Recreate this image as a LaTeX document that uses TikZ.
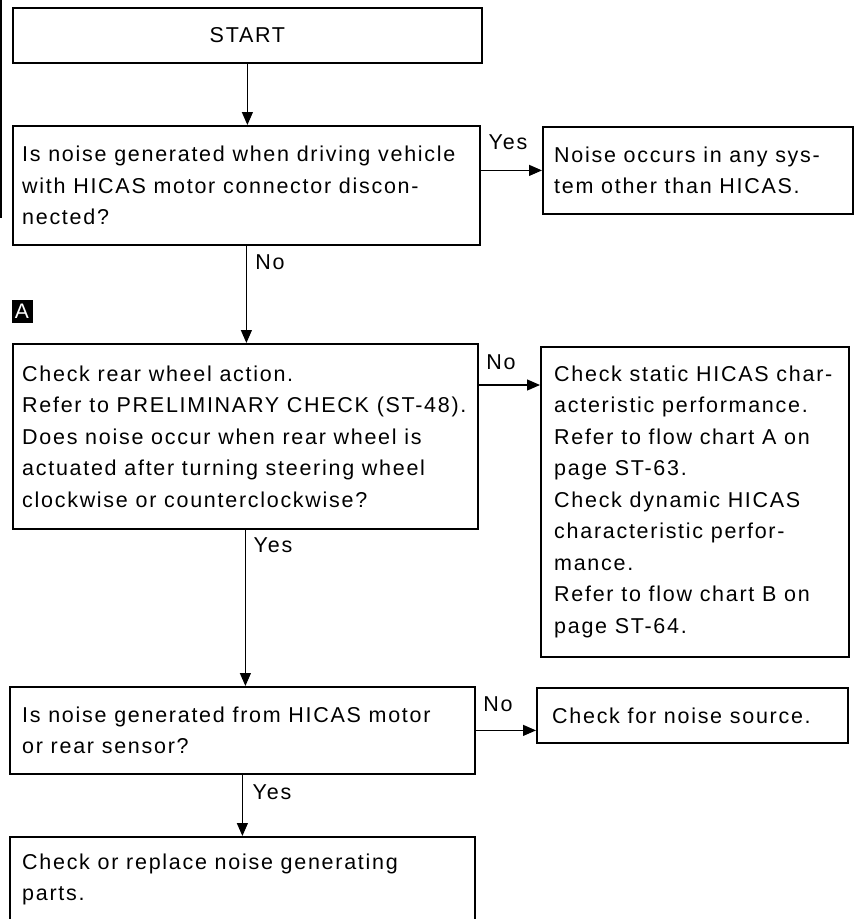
\documentclass[tikz,border=0pt]{standalone}
\usepackage{fontspec}
\setmainfont{Liberation Sans}[LetterSpace=8]
\usetikzlibrary{arrows.meta}
\tikzset{
  bx/.style={draw, line width=1.8pt, inner sep=0pt, anchor=north west,
    font=\fontsize{21.5}{31.5}\selectfont},
  tx/.style={font=\fontsize{21.5}{31.5}\selectfont, align=left, anchor=west, inner sep=0pt},
  lb/.style={font=\fontsize{21.5}{23}\selectfont, inner sep=0pt},
  arr/.style={line width=1.2pt, -{Triangle[length=13pt,width=11pt]}},
  badge/.style={fill=black, text=white, minimum width=21pt, minimum height=23pt,
    inner sep=0pt, font=\fontsize{21}{21}\selectfont},
}
\begin{document}
\begin{tikzpicture}[x=1pt,y=-1pt]
\useasboundingbox (0,0) rectangle (855,919);
\clip (0,0) rectangle (855,919);
\fill[white] (0,0) rectangle (855,919);
\draw[line width=1.5pt] (1,0) -- (1,218);

\node[bx, minimum width=469pt, minimum height=55pt] (start) at (12,7) {START};

\node[bx, minimum width=467pt, minimum height=119pt] (b2) at (12,125) {};
\node[tx] (t2) at ([xshift=10pt]b2.west) {Is noise generated when driving vehicle\\with HICAS motor connector discon-\\nected?};

\node[bx, minimum width=310pt, minimum height=87pt] (b3) at (542,126) {};
\node[tx] (t3) at ([xshift=12pt]b3.west) {Noise occurs in any sys-\\tem other than HICAS.};

\node[bx, minimum width=465pt, minimum height=185pt] (b4) at (12,343) {};
\node[tx] (t4) at ([xshift=10pt]b4.west) {Check rear wheel action.\\Refer to PRELIMINARY CHECK (ST-48).\\Does noise occur when rear wheel is\\actuated after turning steering wheel\\clockwise or counterclockwise?};

\node[bx, minimum width=308pt, minimum height=310pt] (b5) at (540,346) {};
\node[tx] (t5) at ([xshift=14pt]b5.west) {Check static HICAS char-\\acteristic performance.\\Refer to flow chart A on\\page ST-63.\\Check dynamic HICAS\\characteristic perfor-\\mance.\\Refer to flow chart B on\\page ST-64.};

\node[bx, minimum width=465pt, minimum height=87pt] (b6) at (9,686) {};
\node[tx] (t6) at ([xshift=13pt]b6.west) {Is noise generated from HICAS motor\\or rear sensor?};

\node[bx, minimum width=311pt, minimum height=55pt] (b7) at (536,687) {};
\node[tx] (t7) at ([xshift=16pt]b7.west) {Check for noise source.};

\node[bx, minimum width=465pt, minimum height=85pt] (b8) at (9,836) {};
\node[tx] (t8) at ([xshift=13pt]b8.west) {Check or replace noise generating\\parts.};

\node[badge] (badgeA) at (22,311) {A};

\draw[arr] (start.south) -- (start.south |- b2.north);
\draw[arr] (b2.east |- b3.west) -- (b3.west);
\draw[arr] (b2.south) -- (b2.south |- b4.north);
\draw[arr] ([yshift=-42pt]b4.north east) coordinate (p45) -- (p45 -| b5.west);
\draw[arr] (b4.south) -- (b4.south |- b6.north);
\draw[arr] (b6.east) -- (b6.east -| b7.west);
\draw[arr] (b6.south) -- (b6.south |- b8.north);

\node[lb] (l1) at (508,142) {Yes};
\node[lb] (l2) at (270,262) {No};
\node[lb] (l3) at (501,362) {No};
\node[lb] (l4) at (273,545) {Yes};
\node[lb] (l5) at (498,704) {No};
\node[lb] (l6) at (272,792) {Yes};
\end{tikzpicture}
\end{document}
